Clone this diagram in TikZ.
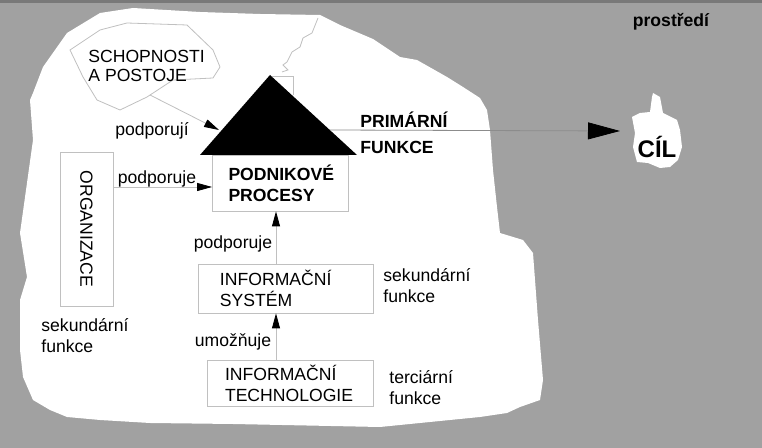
\documentclass[tikz,border=0pt]{standalone}
\usepackage{fontspec}
\setmainfont{Liberation Sans}
\usetikzlibrary{shapes,arrows.meta}
\definecolor{envgray}{RGB}{161,161,161}
\definecolor{edgegray}{RGB}{192,192,192}
\definecolor{tipgray}{RGB}{140,140,140}
\newcommand{\diag}{\fontsize{8.8}{10.5}\selectfont}
\tikzstyle{block} = [rectangle, draw=edgegray, fill=white, align=left, inner ysep=0pt]
\tikzstyle{line} = [draw=edgegray, -{Triangle[length=7.5pt,width=4pt,black]}]
\tikzstyle{mainline} = [draw=tipgray, -{Triangle[length=16pt,width=8.5pt,black]}]
\tikzstyle{lbl} = [inner sep=0pt, align=left]
\tikzstyle{caps} = [lbl, font=\diag\bfseries]

\begin{document}
\begin{tikzpicture}[x=0.5pt,y=-0.5pt,font=\diag]
\useasboundingbox (0,0) rectangle (762,448);
\fill[envgray] (0,0) rectangle (762,448);
\fill[envgray!75!black] (0,0) rectangle (762,3);
% podnik
\fill[white] (100,13) -- (133,8) -- (200,12) -- (260,14) -- (320,15) -- (340,25)
  -- (373,39) -- (400,57) -- (417,60) -- (447,77) -- (463,87) -- (480,98)
  -- (487,110) -- (490,130) -- (493,170) -- (497,207) -- (500,233) -- (523,240)
  -- (533,253) -- (538,320) -- (543,380) -- (540,400) -- (520,407) -- (507,413)
  -- (480,417) -- (380,427) -- (233,424) -- (150,423) -- (100,420) -- (67,417)
  -- (50,410) -- (33,400) -- (23,377) -- (20,350) -- (20,300) -- (27,277)
  -- (20,233) -- (27,183) -- (33,140) -- (30,100) -- (33,93) -- (43,67)
  -- (67,33) -- cycle;
\draw[edgegray] (318,18) -- (312,33) -- (303,38) -- (300,47) -- (292,52)
  -- (287,62) -- (283,65) -- (288,70) -- (282,72);
\draw[edgegray] (272,76) -- (293,76) -- (293,95);
% strecha
\fill[black] (270,75) coordinate (apex) -- (200,155) -- (357,155) -- cycle;
\coordinate (roofin) at (219,130);
\coordinate (roofout) at (330,130);
% schopnosti
\draw[edgegray] (70,50) -- (100,30) -- (127,23) -- (187,25) -- (213,50) -- (220,67)
  -- (213,78) -- (173,80) -- (147,97) -- (120,110) -- (97,100) -- (83,77) -- cycle;
\node[lbl, anchor=west] (schop) at (88,66) {SCHOPNOSTI\\[-1pt]A POSTOJE};
\coordinate (schopout) at (150,95);
% boxy
\node[block, minimum width=67.5pt, minimum height=28pt, text width=52pt,
  inner xsep=8pt, font=\diag\bfseries] (procesy) at (280.5,183) {PODNIKOVÉ\\PROCESY};
\node[block, rotate=-90, minimum width=77pt, minimum height=26.5pt,
  align=center] (org) at (86.5,229) {ORGANIZACE};
\node[block, minimum width=87.5pt, minimum height=24.5pt, text width=65.5pt,
  inner xsep=11pt] (is) at (285.5,288.5) {INFORMAČNÍ\\SYSTÉM};
\node[block, minimum width=83pt, minimum height=23pt, text width=65pt,
  inner xsep=9pt] (it) at (290,383) {INFORMAČNÍ\\TECHNOLOGIE};
% cil
\fill[white] (653,93) -- (660,97) -- (663,113) -- (677,120) -- (680,130) -- (682,147)
  -- (678,160) -- (670,167) -- (660,168) -- (648,163) -- (637,162) -- (633,147)
  -- (635,133) -- (632,117) -- (640,113) -- (650,112) -- (652,97) -- cycle;
\node[lbl, font=\fontsize{12}{14}\selectfont\bfseries] (cil) at (657,147) {CÍL};
\coordinate (cilin) at (620,131);
% popisky
\node[lbl] (podporuji) at (152,131) {podporují};
\node[lbl] (podporujeA) at (157,179) {podporuje};
\node[lbl] (podporujeB) at (233,244) {podporuje};
\node[lbl] (umoznuje) at (233,342) {umožňuje};
\node[lbl, anchor=west] (sekA) at (41,336) {sekundární\\funkce};
\node[lbl, anchor=west] (sekB) at (383,286) {sekundární\\funkce};
\node[lbl, anchor=west] (terc) at (389,388) {terciární\\funkce};
\node[caps, anchor=west] (prim) at (360,133) {PRIMÁRNÍ\\[2.5pt]FUNKCE};
\node[caps] (env) at (671,22) {prostředí};
% sipky
\coordinate (spine) at (276,0);
\coordinate (orgout) at (113,187);
\draw[line] (schopout) -- (roofin);
\draw[line] (orgout) -- (orgout -| procesy.west);
\draw[line] (is.north -| spine) -- (procesy.south -| spine);
\draw[line] (it.north -| spine) -- (is.south -| spine);
\draw[mainline] (roofout) -- (cilin);
\end{tikzpicture}
\end{document}
